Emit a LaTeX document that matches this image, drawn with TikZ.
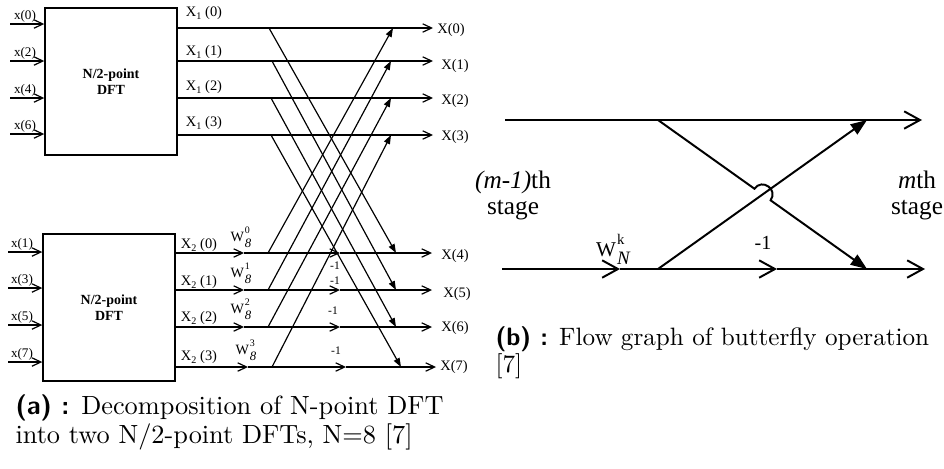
\documentclass[tikz,border=0pt]{standalone}
\usepackage{fontspec}
\usepackage{graphicx}
\newfontfamily\tms{Liberation Serif}
\usetikzlibrary{arrows.meta}
\newcommand{\twf}[2]{W\kern0.05em\rlap{\raisebox{0.6em}{\scalebox{0.7}{#1}}}\raisebox{-0.36em}{\scalebox{0.9}{\itshape #2}}}

\begin{document}
\begin{tikzpicture}[
    x=0.38pt, y=-0.38pt,
    sig/.style={line width=0.45pt},
    oarr/.style={sig,-{Straight Barb[length=3.4pt,width=3.2pt]}},
    farr/.style={sig,-{Triangle[length=3.4pt,width=2.4pt]}},
    dftbox/.style={draw,line width=0.5pt,minimum width=50.2pt,minimum height=55.9pt,inner sep=0pt,align=center,font=\tms\bfseries\fontsize{5.3}{6.2}\selectfont},
    lbl/.style={inner sep=0pt,font=\tms\fontsize{5}{6}\selectfont},
    xlbl/.style={inner sep=0pt,font=\tms\fontsize{5.5}{6.5}\selectfont},
    wlbl/.style={inner sep=0pt,font=\tms\fontsize{5.4}{6}\selectfont},
    mlbl/.style={inner sep=0pt,font=\tms\fontsize{4.4}{5}\selectfont},
    bsig/.style={line width=0.75pt},
    boarr/.style={bsig,-{Straight Barb[length=6pt,width=6.6pt]}},
    bfarr/.style={bsig,-{Triangle[length=6.2pt,width=4.6pt]}},
    blbl/.style={inner sep=0pt,align=center,font=\tms\fontsize{9.6}{9.9}\selectfont},
    capt/.style={anchor=north west,inner sep=0pt,align=left}
  ]
    \useasboundingbox (0,0) rectangle (944,468);

    \node[dftbox] (dft1) at (111,81.5) {N/2-point\\DFT};
    \node[dftbox] (dft2) at (109,307.5) {N/2-point\\DFT};

    \foreach \k/\y/\t in {0/24/0, 1/61/2, 2/98/4, 3/134/6} {
      \coordinate (xa\k) at (10,\y);
      \draw[oarr] (xa\k) -- (xa\k -| dft1.west);
      \node[lbl] at (25,\y-8) {x(\t)};
    }
    \foreach \k/\y/\t in {0/252/1, 1/288/3, 2/325/5, 3/362/7} {
      \coordinate (xb\k) at (8,\y);
      \draw[oarr] (xb\k) -- (xb\k -| dft2.west);
      \node[lbl] at (22,\y-8) {x(\t)};
    }

    \foreach \k/\y/\bx/\tx/\ex/\ly in {0/28/269/393/433/13, 1/61/272/391/433/52, 2/98/271/391/433/87, 3/135/271/391/433/123} {
      \coordinate (b\k) at (\bx,\y);
      \coordinate (t\k) at (\tx,\y);
      \coordinate (e\k) at (\ex,\y);
      \draw[oarr] (b\k -| dft1.east) -- (e\k);
      \node[xlbl] at (204,\ly) {X\textsubscript{1}\,(\k)};
    }
    \foreach \k/\y/\bx/\tx/\wx/\mx/\ex in {4/253/268/396/244/340/432, 5/290/268/396/244/340/432, 6/327/268/396/244/340/432, 7/367/272/401/248/346/436} {
      \coordinate (b\k) at (\bx,\y);
      \coordinate (t\k) at (\tx,\y);
      \coordinate (w\k) at (\wx,\y);
      \coordinate (m\k) at (\mx,\y);
      \coordinate (e\k) at (\ex,\y);
      \draw[oarr] (w\k -| dft2.east) -- (w\k);
      \draw[oarr] (w\k) -- (m\k);
      \draw[oarr] (m\k) -- (e\k);
    }
    \foreach \a/\b in {0/4, 1/5, 2/6, 3/7} {
      \draw[farr] (b\a) -- (t\b);
      \draw[farr] (b\b) -- (t\a);
    }

    \foreach \k/\ly in {0/245, 1/282, 2/318, 3/357}
      \node[xlbl] at (199,\ly) {X\textsubscript{2}\,(\k)};
    \foreach \k/\lx/\ly in {0/241/237, 1/241/273, 2/241/309, 3/246/350}
      \node[wlbl] at (\lx,\ly) {\twf{\k}{8}};
    \foreach \lx/\ly in {335/266, 335/281, 333/311, 336/351}
      \node[mlbl] at (\lx,\ly) {-1};
    \foreach \k/\y/\lx in {0/30/451, 1/66/455, 2/101/455, 3/137/455, 4/256/455, 5/294/457, 6/328/455, 7/367/454}
      \node[xlbl] at (\lx,\y) {X(\k)};

    \coordinate (ua) at (505,120);
    \coordinate (ub) at (922,120);
    \coordinate (la) at (502,269);
    \coordinate (lw) at (620,269);
    \coordinate (lm) at (777,269);
    \coordinate (lb) at (925,269);
    \coordinate (us) at (658,120);
    \coordinate (ls) at (658,269);
    \coordinate (ut) at (867,120);
    \coordinate (lt) at (867,269);
    \coordinate (hopa) at (754.4,188.7);
    \coordinate (hopc) at (762.1,177.9);
    \coordinate (hopd) at (778.3,189.5);
    \coordinate (hopb) at (770.6,200.3);
    \draw[boarr] (ua) -- (ub);
    \draw[boarr] (la) -- (lw);
    \draw[boarr] (lw) -- (lm);
    \draw[boarr] (lm) -- (lb);
    \draw[bfarr] (ls) -- (ut);
    \draw[bfarr] (us) -- (hopa) .. controls (hopc) and (hopd) .. (hopb) -- (lt);

    \node[blbl] (prev) at (513,195) {\textit{(m-1)}th\\stage};
    \node[blbl] (next) at (917,195) {\textit{m}th\\stage};
    \node[inner sep=0pt,font=\tms\fontsize{8}{9}\selectfont] (tw) at (613,249) {\twf{k}{N}};
    \node[inner sep=0pt,font=\tms\fontsize{7.6}{8}\selectfont] (neg) at (763,243) {-1};

    \node[capt,font=\fontsize{10}{9.8}\selectfont] (capa) at (15,394) {\textsf{\textbf{(a) :}} Decomposition of N-point DFT\\into two N/2-point DFTs, N=8 [7]};
    \node[capt,font=\fontsize{9.55}{10.2}\selectfont] (capb) at (495,326) {\textsf{\textbf{(b) :}} Flow graph of butterfly operation\\{[7]}};
\end{tikzpicture}
\end{document}
